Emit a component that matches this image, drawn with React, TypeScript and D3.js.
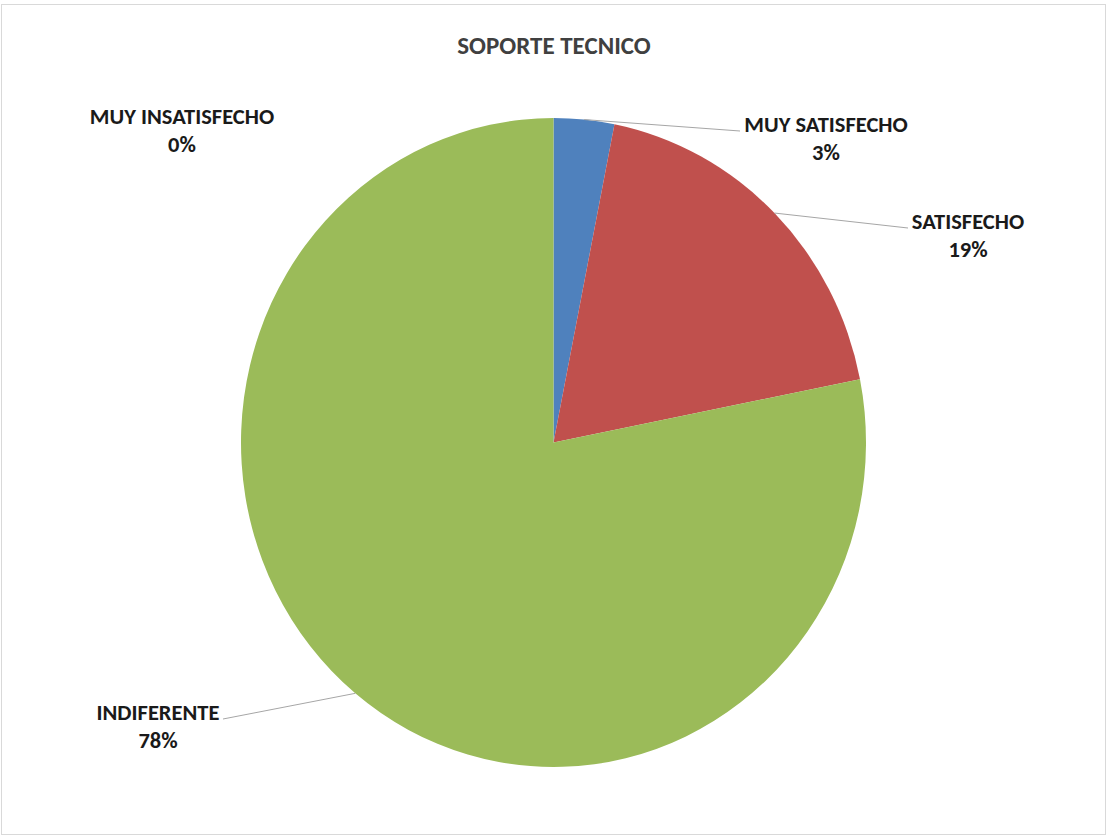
import React from "react";
import * as d3 from "d3";

const categories = ["MUY SATISFECHO", "SATISFECHO", "INDIFERENTE", "MUY INSATISFECHO"];
const values = [1, 6, 25, 0];
const percentLabels = ["3%", "19%", "78%", "0%"];
const colors = ["#4F81BD", "#C0504D", "#9BBB59", "#8064A2"];

const W = 1107;
const H = 838;
const cx = 553.5;
const cy = 442.5;
const rx = 312.5;
const ry = 324.5;

// label anchor (center of text block) and leader end point
const labelPos = [
  { x: 826, y: 132, lx: 740, ly: 131, line: true },
  { x: 968, y: 229, lx: 908, ly: 228, line: true },
  { x: 158, y: 720, lx: 223, ly: 719, line: true },
  { x: 182, y: 124, lx: 0, ly: 0, line: false },
];

export default function App() {
  const pie = d3.pie<number>().sort(null).value((d) => d);
  const arcs = pie(values);
  const arcGen = d3.arc<d3.PieArcDatum<number>>().innerRadius(0).outerRadius(ry);
  const sx = rx / ry;
  const font = "Carlito, 'Open Sans', 'Liberation Sans', sans-serif";

  return (
    <svg
      width={W}
      height={H}
      style={{ position: "absolute", left: 0, top: 0, background: "#fff" }}
      fontFamily={font}
    >
      <rect x={1.5} y={4.5} width={1104} height={830} fill="#fff" stroke="#d9d9d9" strokeWidth={1} />
      <text x={554} y={54} textAnchor="middle" fontSize={25} fontWeight="bold" fill="#404040">
        SOPORTE TECNICO
      </text>
      <g transform={`translate(${cx},${cy}) scale(${sx},1)`}>
        {arcs.map((a, i) =>
          a.value > 0 ? <path key={i} d={arcGen(a) || ""} fill={colors[i]} /> : null
        )}
      </g>
      {arcs.map((a, i) => {
        const p = labelPos[i];
        const mid = (a.startAngle + a.endAngle) / 2;
        const px = cx + rx * Math.sin(mid);
        const py = cy - ry * Math.cos(mid);
        return (
          <g key={i}>
            {p.line && a.value > 0 ? (
              <line x1={px} y1={py} x2={p.lx} y2={p.ly} stroke="#a6a6a6" strokeWidth={1} />
            ) : null}
            <text x={p.x} y={p.y} textAnchor="middle" fontSize={22.5} fontWeight="bold" fill="#1a1a1a">
              {categories[i]}
            </text>
            <text x={p.x} y={p.y + 27.5} textAnchor="middle" fontSize={22.5} fontWeight="bold" fill="#1a1a1a">
              {percentLabels[i]}
            </text>
          </g>
        );
      })}
    </svg>
  );
}
